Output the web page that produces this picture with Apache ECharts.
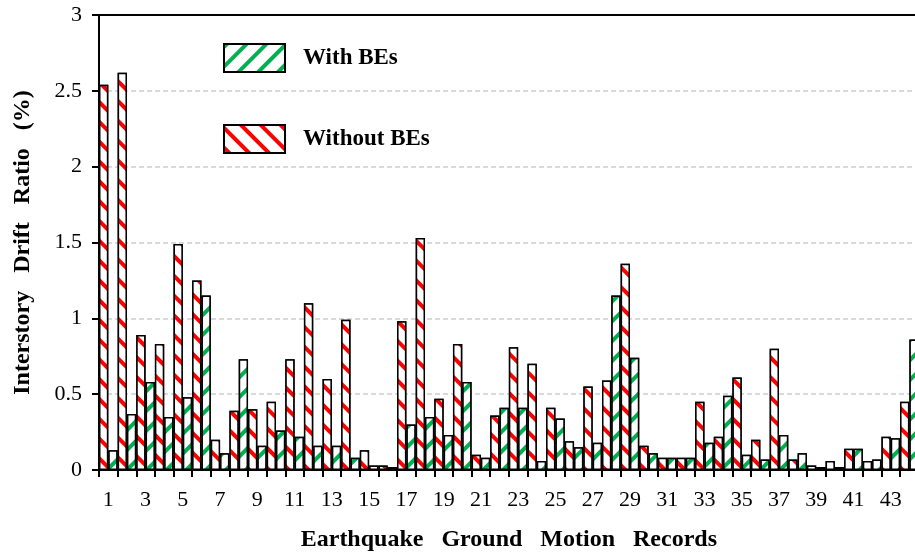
<!DOCTYPE html>
<html><head><meta charset="utf-8">
<script src="https://cdn.jsdelivr.net/npm/echarts@6/dist/echarts.min.js"></script>
<style>html,body{margin:0;padding:0;background:#fff}#c{width:915px;height:557px}</style>
</head><body><div id="c"></div>
<script>
const categories = ['1','2','3','4','5','6','7','8','9','10','11','12','13','14','15','16','17','18','19','20','21','22','23','24','25','26','27','28','29','30','31','32','33','34','35','36','37','38','39','40','41','42','43','44'];
const withoutBEs = [2.54, 2.62, 0.89, 0.83, 1.49, 1.25, 0.20, 0.39, 0.40, 0.45, 0.73, 1.10, 0.60, 0.99, 0.13, 0.03, 0.98, 1.53, 0.47, 0.83, 0.10, 0.36, 0.81, 0.70, 0.41, 0.19, 0.55, 0.59, 1.36, 0.16, 0.08, 0.08, 0.45, 0.22, 0.61, 0.20, 0.80, 0.07, 0.03, 0.06, 0.14, 0.06, 0.22, 0.45];
const withBEs = [0.13, 0.37, 0.58, 0.35, 0.48, 1.15, 0.11, 0.73, 0.16, 0.26, 0.22, 0.16, 0.16, 0.08, 0.03, 0.02, 0.30, 0.35, 0.23, 0.58, 0.08, 0.41, 0.41, 0.06, 0.34, 0.15, 0.18, 1.15, 0.74, 0.11, 0.08, 0.08, 0.18, 0.49, 0.10, 0.07, 0.23, 0.11, 0.02, 0.02, 0.14, 0.07, 0.21, 0.86];
const legendOrder = ['With BEs', 'Without BEs'];

const FONT = '"Liberation Serif","Times New Roman",serif';
const chart = echarts.init(document.getElementById('c'), null, {renderer: 'canvas'});
const redDecal = {symbol: 'rect', symbolSize: 1, dashArrayX: [1, 0], dashArrayY: [4, 10], rotation: Math.PI / 4, color: '#ff0000', backgroundColor: '#ffffff'};
const greenDecal = {symbol: 'rect', symbolSize: 1, dashArrayX: [1, 0], dashArrayY: [4, 10], rotation: -Math.PI / 4, color: '#00b050', backgroundColor: '#ffffff'};
const axisLineStyle = {color: '#000', width: 2};
const option = {
  animation: false,
  grid: {left: 99, top: 15, width: 819.7, height: 455, outerBoundsMode: 'none', containLabel: false,
         show: true, borderColor: '#000', borderWidth: 2, backgroundColor: 'transparent'},
  legend: {
    data: legendOrder, orient: 'vertical', left: 223, top: 43, padding: 0,
    itemWidth: 61, itemHeight: 28, itemGap: 51, icon: 'rect',
    textStyle: {fontFamily: FONT, fontSize: 23, fontWeight: 'bold', color: '#000', padding: [0, 0, 0, 13]}
  },
  xAxis: {
    type: 'category', data: categories,
    axisLine: {lineStyle: axisLineStyle},
    axisTick: {show: true, interval: 0, length: 7, lineStyle: axisLineStyle},
    axisLabel: {interval: 1, color: '#000', fontFamily: FONT, fontSize: 22, margin: 19},
    name: 'Earthquake   Ground   Motion   Records', nameLocation: 'middle', nameGap: 58,
    nameTextStyle: {fontFamily: FONT, fontSize: 24, fontWeight: 'bold', color: '#000'}
  },
  yAxis: {
    type: 'value', min: 0, max: 3, interval: 0.5,
    axisLine: {show: true, lineStyle: axisLineStyle},
    axisTick: {show: true, length: 7, lineStyle: axisLineStyle},
    axisLabel: {color: '#000', fontFamily: FONT, fontSize: 22, margin: 17},
    splitLine: {show: true, showMinLine: false, showMaxLine: false, lineStyle: {type: [5, 3], color: '#d9d9d9', width: 2}},
    name: 'Interstory   Drift   Ratio   (%)', nameLocation: 'middle', nameGap: 64, nameRotate: 90,
    nameTextStyle: {fontFamily: FONT, fontSize: 24, fontWeight: 'bold', color: '#000'}
  },
  series: [
    {name: 'Without BEs', type: 'bar', data: withoutBEs, barGap: '0%', barCategoryGap: '0%',
     itemStyle: {color: '#fff', borderColor: '#000', borderWidth: 1.5, decal: redDecal}},
    {name: 'With BEs', type: 'bar', data: withBEs, barGap: '0%', barCategoryGap: '0%',
     itemStyle: {color: '#fff', borderColor: '#000', borderWidth: 1.5, decal: greenDecal}}
  ]
};
chart.setOption(option);
</script></body></html>
